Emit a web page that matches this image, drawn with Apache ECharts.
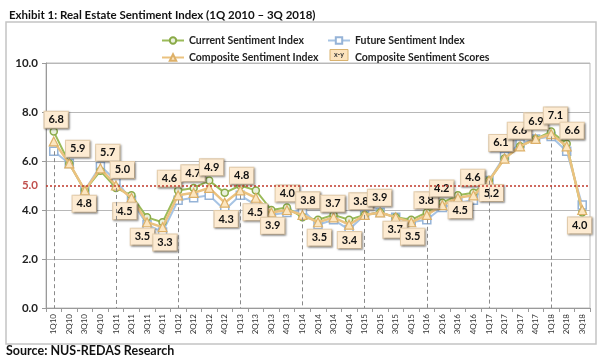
<!DOCTYPE html>
<html>
<head>
<meta charset="utf-8">
<script src="https://cdn.jsdelivr.net/npm/echarts@6/dist/echarts.min.js"></script>
<style>html,body{margin:0;padding:0;background:#fff}#c{width:600px;height:360px}</style>
</head>
<body>
<div id="c"></div>
<script>
const categories = ['1Q10','2Q10','3Q10','4Q10','1Q11','2Q11','3Q11','4Q11','1Q12','2Q12','3Q12','4Q12','1Q13','2Q13','3Q13','4Q13','1Q14','2Q14','3Q14','4Q14','1Q15','2Q15','3Q15','4Q15','1Q16','2Q16','3Q16','4Q16','1Q17','2Q17','3Q17','4Q17','1Q18','2Q18','3Q18'];
const currentIndex = [7.2,5.9,4.8,5.6,4.9,4.6,3.7,3.5,4.8,4.9,5.2,4.7,5.0,4.8,4.0,4.1,3.7,3.6,3.8,3.6,3.8,3.9,3.7,3.6,3.9,4.3,4.6,4.7,5.2,6.1,6.6,6.9,7.2,6.7,3.9];
const futureIndex = [6.4,5.9,4.8,5.8,5.2,4.4,3.4,3.1,4.4,4.5,4.6,4.0,4.6,4.2,3.8,3.9,4.0,3.4,3.6,3.2,3.8,3.9,3.7,3.5,3.6,4.1,4.3,4.4,5.2,6.2,6.7,6.9,7.0,6.4,4.2];
const compositeIndex = [6.8,5.9,4.8,5.7,5.0,4.5,3.5,3.3,4.6,4.7,4.9,4.3,4.8,4.5,3.9,4.0,3.8,3.5,3.7,3.4,3.8,3.9,3.7,3.5,3.8,4.2,4.5,4.6,5.2,6.1,6.6,6.9,7.1,6.6,4.0];
const yTicks = [0, 2, 4, 6, 8, 10];
const threshold = 5.0;

// style only: label box centre offsets (px) from each composite point
const labelDX = [3,9,0,8,7,-6,-4,3,-8,0,3,2,2,0,2,1,6,2,0,1,-3,0,0,2,0,0,3,0,3,-3,0,1,5,6,-2];
const labelDY = [-21,-14,14,-15,-15,14,15,16,-16,-19,-20,17,-14,15,14,-16,-14,16,-13,16,-13,-14,13,15,-14,-16,13,-17,13,-15,-15,-17,-18,-15,16];

const FONT = 'Lato';
const SYM = 9;
const chart = echarts.init(document.getElementById('c'), null, {renderer:'canvas'});

const compData = compositeIndex.map((v, i) => ({
  value: v,
  label: { position: [SYM / 2 + labelDX[i], SYM / 2 + labelDY[i]], align: 'center', verticalAlign: 'middle' }
}));

const dropLines = [];
categories.forEach((c, i) => {
  if (c.startsWith('1Q')) {
    dropLines.push([{ coord: [i, Math.min(currentIndex[i], futureIndex[i], compositeIndex[i])] }, { coord: [i, yTicks[0]] }]);
  }
});

const legendText = { fontFamily: FONT, fontWeight: 'bold', fontSize: 10.5, color: '#222' };

const option = {
  animation: false,
  backgroundColor: '#fff',
  textStyle: { fontFamily: FONT },
  title: {
    text: 'Exhibit 1: Real Estate Sentiment Index (1Q 2010 \u2013 3Q 2018)',
    left: 4, top: 4,
    textStyle: { fontFamily: FONT, fontWeight: 'bold', fontSize: 11.5, color: '#111' }
  },
  graphic: [
    { type: 'rect', shape: { x: 6, y: 22, width: 590, height: 322 }, style: { fill: 'none', stroke: '#c4c4c4', lineWidth: 1.5 }, z: -1 },
    { type: 'text', left: 6, top: 344, style: { text: 'Source: NUS-REDAS Research', font: 'bold 12.5px ' + FONT, fill: '#111' } },
    { type: 'rect', shape: { x: 330, y: 49.5, width: 18, height: 11 }, style: { fill: '#FCE3BD', stroke: '#D9B26E', lineWidth: 1 }, z: 100 },
    { type: 'text', x: 339, y: 55, style: { text: 'x-y', font: 'bold 7px ' + FONT, fill: '#333', align: 'center', verticalAlign: 'middle' }, z: 101 }
  ],
  legend: [
    {
      left: 161, top: 35, padding: 0, orient: 'vertical', itemGap: 6, itemWidth: 22, itemHeight: 8,
      data: ['Current Sentiment Index', 'Composite Sentiment Index'],
      textStyle: legendText
    },
    {
      left: 327, top: 35, padding: 0, orient: 'vertical', itemGap: 6, itemWidth: 22, itemHeight: 8,
      data: ['Future Sentiment Index', { name: 'Composite Sentiment Scores', icon: 'rect', itemStyle: { color: 'rgba(0,0,0,0)', borderWidth: 0 } }],
      textStyle: legendText
    }
  ],
  grid: { left: 46, right: 10, top: 63, bottom: 52, show: true, borderColor: '#bdbdbd', borderWidth: 1 },
  xAxis: {
    type: 'category',
    data: categories,
    boundaryGap: true,
    axisLine: { lineStyle: { color: '#9a9a9a' } },
    axisTick: { show: true, interval: 0, length: 4, lineStyle: { color: '#9a9a9a' } },
    axisLabel: { interval: 0, rotate: 90, fontSize: 8, color: '#333', fontFamily: FONT, margin: 6 },
    splitLine: { show: false }
  },
  yAxis: {
    type: 'value',
    min: yTicks[0], max: yTicks[yTicks.length - 1], interval: 2,
    axisLine: { show: true, lineStyle: { color: '#9a9a9a' } },
    axisTick: { show: true, length: 4, lineStyle: { color: '#9a9a9a' } },
    axisLabel: { formatter: v => v.toFixed(1), fontWeight: 'bold', fontSize: 11.5, color: '#222', fontFamily: FONT, margin: 8 },
    splitLine: { lineStyle: { color: '#b8b8b8', width: 1 } }
  },
  series: [
    {
      name: 'Future Sentiment Index', type: 'line', data: futureIndex, z: 2,
      symbol: 'rect', symbolSize: 8,
      lineStyle: { color: '#A7C4E4', width: 2 },
      itemStyle: { color: '#ffffff', borderColor: '#95B3D7', borderWidth: 1.5 },
      markLine: {
        silent: true, symbol: 'none',
        lineStyle: { color: '#8a8a8a', type: [4, 3], width: 1 },
        label: { show: false },
        data: dropLines
      }
    },
    {
      name: 'Current Sentiment Index', type: 'line', data: currentIndex, z: 3,
      symbol: 'circle', symbolSize: 7,
      lineStyle: { color: '#9BBB59', width: 2 },
      itemStyle: { color: '#EAF1DD', borderColor: '#8AAA48', borderWidth: 1.5 }
    },
    {
      name: 'Composite Sentiment Index', type: 'line', data: compData, z: 4,
      symbol: 'triangle', symbolSize: SYM,
      lineStyle: { color: '#EBC27F', width: 2.5 },
      itemStyle: { color: '#FCE6C0', borderColor: '#DDB068', borderWidth: 1.2 },
      label: {
        show: true,
        formatter: p => p.value.toFixed(1),
        fontFamily: FONT, fontWeight: 'bold', fontSize: 11, color: '#111',
        backgroundColor: '#FDEBD2', borderColor: '#E6CFAE', borderWidth: 1,
        padding: [3, 4, 2, 4],
        shadowColor: 'rgba(0,0,0,0.35)', shadowBlur: 2, shadowOffsetX: 1, shadowOffsetY: 1
      },
      labelLayout: { hideOverlap: false },
      markLine: {
        silent: true, symbol: 'none',
        lineStyle: { color: '#C0392B', type: [2, 2], width: 1.5 },
        label: { show: true, position: 'start', formatter: threshold.toFixed(1), color: '#C0504D', fontWeight: 'bold', fontSize: 11.5, fontFamily: FONT, distance: 8 },
        data: [{ yAxis: threshold }]
      }
    },
    {
      name: 'Composite Sentiment Scores', type: 'line', data: [],
      itemStyle: { color: '#FCE3BD' }
    }
  ]
};
chart.setOption(option);
</script>
</body>
</html>
